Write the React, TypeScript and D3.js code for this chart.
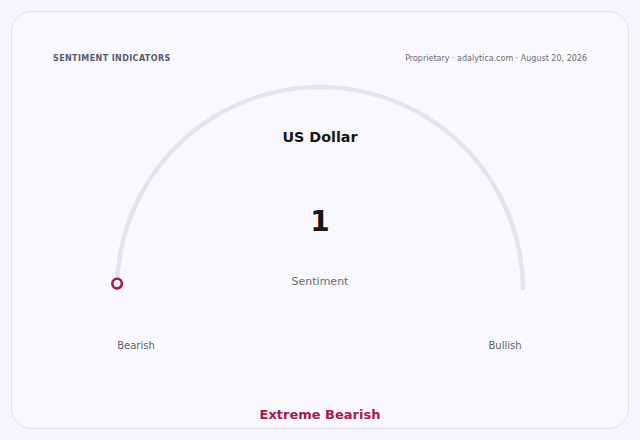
import * as d3 from "d3";
import { useEffect, useRef } from "react";

// gauge data
const asset = ["US Dollar"];
const values = [1];
const domain = [0, 100];
const endLabels = ["Bearish", "Bullish"];
const zoneLabel = ["Extreme Bearish"];
const header = ["SENTIMENT INDICATORS", "Proprietary · adalytica.com · August 20, 2026"];

const W = 640;
const H = 440;

function draw(node: SVGSVGElement) {
  const svg = d3.select(node);
  svg.selectAll("*").remove();
  const font = "'DejaVu Sans', sans-serif";

  svg.append("rect").attr("width", W).attr("height", H).attr("fill", "#f7f7fb");
  svg.append("rect")
    .attr("x", 11.5).attr("y", 11.5)
    .attr("width", 617).attr("height", 417)
    .attr("rx", 20)
    .attr("fill", "#f9f9fd")
    .attr("stroke", "#e2e2ea");

  svg.append("text")
    .attr("x", 53).attr("y", 61)
    .attr("font-family", font).attr("font-size", 8).attr("font-weight", "bold")
    .attr("letter-spacing", 0.4)
    .attr("fill", "#585870")
    .text(header[0]);
  svg.append("text")
    .attr("x", 587).attr("y", 61)
    .attr("text-anchor", "end")
    .attr("font-family", font).attr("font-size", 8)
    .attr("fill", "#6a6a78")
    .text(header[1]);

  const cx = 320, cy = 290, r = 203;
  // angle scale: -90deg .. +90deg
  const angle = d3.scaleLinear().domain(domain).range([-Math.PI / 2, Math.PI / 2]);
  const g = svg.append("g").attr("transform", `translate(${cx},${cy})`);

  const arc = d3.arc<any>()
    .innerRadius(r - 2.2)
    .outerRadius(r + 2.2)
    .cornerRadius(2.2);
  g.append("path")
    .attr("d", arc({ startAngle: angle(domain[0]), endAngle: angle(domain[1]) }) as string)
    .attr("fill", "#e4e4ea");

  const a = angle(values[0]);
  g.append("circle")
    .attr("cx", r * Math.sin(a))
    .attr("cy", -r * Math.cos(a))
    .attr("r", 4.8)
    .attr("fill", "#ffffff")
    .attr("stroke", "#a9184b")
    .attr("stroke-width", 2.6);

  svg.append("text")
    .attr("x", cx).attr("y", 142)
    .attr("text-anchor", "middle")
    .attr("font-family", font).attr("font-size", 14.3).attr("font-weight", "bold")
    .attr("fill", "#15151a")
    .text(asset[0]);
  svg.append("text")
    .attr("x", cx).attr("y", 231)
    .attr("text-anchor", "middle")
    .attr("font-family", font).attr("font-size", 28).attr("font-weight", "bold")
    .attr("fill", "#15151a")
    .text(d3.format("d")(values[0]));
  svg.append("text")
    .attr("x", cx).attr("y", 285)
    .attr("text-anchor", "middle")
    .attr("font-family", font).attr("font-size", 11)
    .attr("fill", "#6a6a74")
    .text("Sentiment");

  svg.append("text")
    .attr("x", 136).attr("y", 349)
    .attr("text-anchor", "middle")
    .attr("font-family", font).attr("font-size", 10)
    .attr("fill", "#5e5e6a")
    .text(endLabels[0]);
  svg.append("text")
    .attr("x", 505).attr("y", 349)
    .attr("text-anchor", "middle")
    .attr("font-family", font).attr("font-size", 10)
    .attr("fill", "#5e5e6a")
    .text(endLabels[1]);

  svg.append("text")
    .attr("x", cx).attr("y", 419)
    .attr("text-anchor", "middle")
    .attr("font-family", font).attr("font-size", 13).attr("font-weight", "bold")
    .attr("fill", "#a9184b")
    .text(zoneLabel[0]);
}

export default function App() {
  const ref = useRef<SVGSVGElement | null>(null);
  useEffect(() => {
    if (ref.current) draw(ref.current);
  }, []);
  return (
    <div style={{ position: "fixed", left: 0, top: 0 }}>
      <svg ref={ref} width={W} height={H} style={{ display: "block" }} />
    </div>
  );
}
